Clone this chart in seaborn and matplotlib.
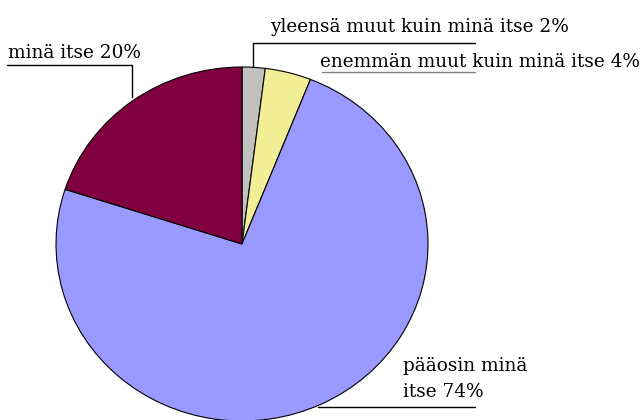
import matplotlib
matplotlib.use("Agg")
import matplotlib.pyplot as plt
import seaborn as sns

# data (clockwise from 12 o'clock)
labels = ["yleensä muut kuin minä itse 2%", "enemmän muut kuin minä itse 4%",
          "pääosin minä\nitse 74%", "minä itse 20%"]
shares = [2, 4, 74, 20]
colors = ["#C0C0C0", "#F2EE96", "#9999FF", "#800040"]

sns.set_theme(style="white")
plt.rcParams['font.family'] = ['DejaVu Serif']
plt.rcParams['text.color'] = 'black'

fig = plt.figure(figsize=(6.4, 4.2), dpi=100)
ax = fig.add_axes([0, 0, 1, 1])

# pie geometry in pixels (slightly wider than tall, like the original)
cx, cy, rx, ry = 242, 244, 186, 177

ax.pie(shares, colors=colors, startangle=90, counterclock=False,
       wedgeprops=dict(edgecolor="black", linewidth=0.8))
ax.set_aspect("auto")
ax.set_xlim(-cx / rx, (640 - cx) / rx)
ax.set_ylim(-(420 - cy) / ry, cy / ry)
ax.axis("off")


def fx(px):
    return px / 640


def fy(py):
    return 1 - py / 420


def leader(xs, ys, color="black"):
    fig.add_artist(plt.Line2D([fx(x) for x in xs], [fy(y) for y in ys],
                              color=color, lw=1))


fs = 13.3
# labels with leader lines
fig.text(fx(270), fy(32), labels[0], fontsize=fs, va="baseline")
leader([253, 253, 475], [67, 43, 43])

fig.text(fx(320), fy(67), labels[1], fontsize=fs, va="baseline")
leader([322, 475], [72, 72], color="#808080")

fig.text(fx(403), fy(397), labels[2], fontsize=fs, va="baseline",
         linespacing=1.55)
leader([318, 475], [407, 407])

fig.text(fx(8), fy(58), labels[3], fontsize=fs, va="baseline")
leader([7, 132, 132], [65, 65, 97])

fig.savefig("out.png", dpi=100)
